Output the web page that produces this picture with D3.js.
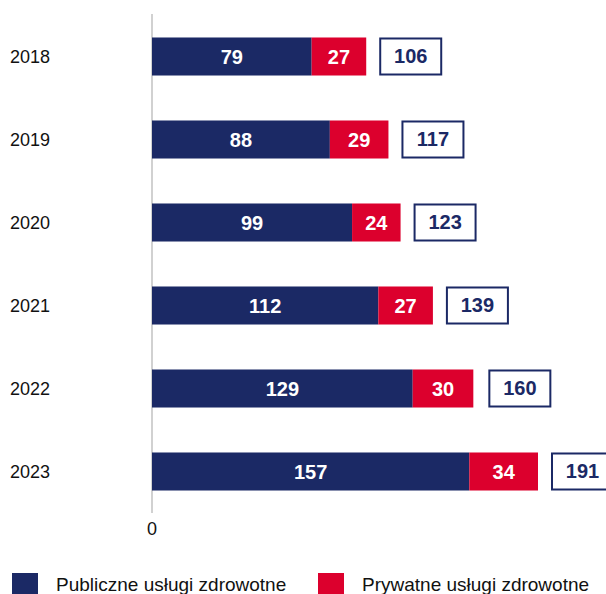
<!DOCTYPE html>
<html>
<head>
<meta charset="utf-8">
<script src="https://cdnjs.cloudflare.com/ajax/libs/d3/7.8.5/d3.min.js"></script>
<style>
  html, body { margin: 0; padding: 0; background: #fff; }
  svg { display: block; font-family: "Liberation Sans", Arial, sans-serif; }
</style>
</head>
<body>
<div id="chart"></div>
<script>
const years = ["2018", "2019", "2020", "2021", "2022", "2023"];
const publicValues = [79, 88, 99, 112, 129, 157];
const privateValues = [27, 29, 24, 27, 30, 34];
const totals = [106, 117, 123, 139, 160, 191];
const seriesNames = ["Publiczne usługi zdrowotne", "Prywatne usługi zdrowotne"];
const xTicks = [0];

const w = 606;
const h = 594;
const navy = "#1b2965";
const red = "#dc002d";

const rows = years.map((y, i) => ({
  year: y,
  pub: publicValues[i],
  priv: privateValues[i],
  total: totals[i]
}));

const svg = d3.select("#chart")
  .append("svg")
  .attr("width", w)
  .attr("height", h);

const xScale = d3.scaleLinear()
  .domain([0, d3.max(totals)])
  .range([152, 538]);

const yScale = d3.scaleBand()
  .domain(years)
  .range([15, 513])
  .paddingInner(0.542)
  .paddingOuter(0.271);

const bw = yScale.bandwidth();

// vertical axis line
svg.append("line")
  .attr("x1", xScale(0))
  .attr("x2", xScale(0))
  .attr("y1", yScale.range()[0] - 1)
  .attr("y2", yScale.range()[1])
  .style("stroke", "#a3a3a3")
  .style("stroke-width", 1);

// year labels
svg.selectAll(".year")
  .data(rows)
  .enter()
  .append("text")
  .attr("class", "year")
  .attr("x", 10)
  .attr("y", d => yScale(d.year) + bw / 2 + 6.5)
  .style("font-size", "18px")
  .style("fill", "#111")
  .text(d => d.year);

// x tick
svg.selectAll(".xtick")
  .data(xTicks)
  .enter()
  .append("text")
  .attr("class", "xtick")
  .attr("x", d => xScale(d))
  .attr("y", 535)
  .attr("text-anchor", "middle")
  .style("font-size", "18px")
  .style("fill", "#111")
  .text(d => d);

// public bars
svg.selectAll(".pub")
  .data(rows)
  .enter()
  .append("rect")
  .attr("class", "pub")
  .attr("x", xScale(0))
  .attr("y", d => yScale(d.year))
  .attr("width", d => xScale(d.pub) - xScale(0))
  .attr("height", bw)
  .style("fill", navy);

// private bars
svg.selectAll(".priv")
  .data(rows)
  .enter()
  .append("rect")
  .attr("class", "priv")
  .attr("x", d => xScale(d.pub))
  .attr("y", d => yScale(d.year))
  .attr("width", d => xScale(d.pub + d.priv) - xScale(d.pub))
  .attr("height", bw)
  .style("fill", red);

// labels inside segments
svg.selectAll(".pubLabel")
  .data(rows)
  .enter()
  .append("text")
  .attr("class", "pubLabel")
  .attr("x", d => (xScale(0) + xScale(d.pub)) / 2)
  .attr("y", d => yScale(d.year) + bw / 2 + 7)
  .attr("text-anchor", "middle")
  .style("font-size", "20px")
  .style("font-weight", "bold")
  .style("fill", "#fff")
  .text(d => d.pub);

svg.selectAll(".privLabel")
  .data(rows)
  .enter()
  .append("text")
  .attr("class", "privLabel")
  .attr("x", d => (xScale(d.pub) + xScale(d.pub + d.priv)) / 2)
  .attr("y", d => yScale(d.year) + bw / 2 + 7)
  .attr("text-anchor", "middle")
  .style("font-size", "20px")
  .style("font-weight", "bold")
  .style("fill", "#fff")
  .text(d => d.priv);

// total boxes
const boxW = 61;
const boxes = svg.selectAll(".total")
  .data(rows)
  .enter()
  .append("g")
  .attr("class", "total")
  .attr("transform", d => `translate(${xScale(d.total) + 14}, ${yScale(d.year)})`);

boxes.append("rect")
  .attr("x", 0)
  .attr("y", 1)
  .attr("width", boxW)
  .attr("height", bw - 2)
  .style("fill", "#fff")
  .style("stroke", navy)
  .style("stroke-width", 2);

boxes.append("text")
  .attr("x", boxW / 2)
  .attr("y", bw / 2 + 7)
  .attr("text-anchor", "middle")
  .style("font-size", "20px")
  .style("font-weight", "bold")
  .style("fill", navy)
  .text(d => d.total);

// legend
const legend = svg.append("g").attr("id", "legend");
const legendX = [12, 318];
const legendColors = [navy, red];

legend.selectAll("rect")
  .data(seriesNames)
  .enter()
  .append("rect")
  .attr("x", (d, i) => legendX[i])
  .attr("y", 573)
  .attr("width", 26)
  .attr("height", 26)
  .style("fill", (d, i) => legendColors[i]);

legend.selectAll("text")
  .data(seriesNames)
  .enter()
  .append("text")
  .attr("x", (d, i) => legendX[i] + 44)
  .attr("y", 591)
  .style("font-size", "19px")
  .style("fill", "#111")
  .text(d => d);
</script>
</body>
</html>
